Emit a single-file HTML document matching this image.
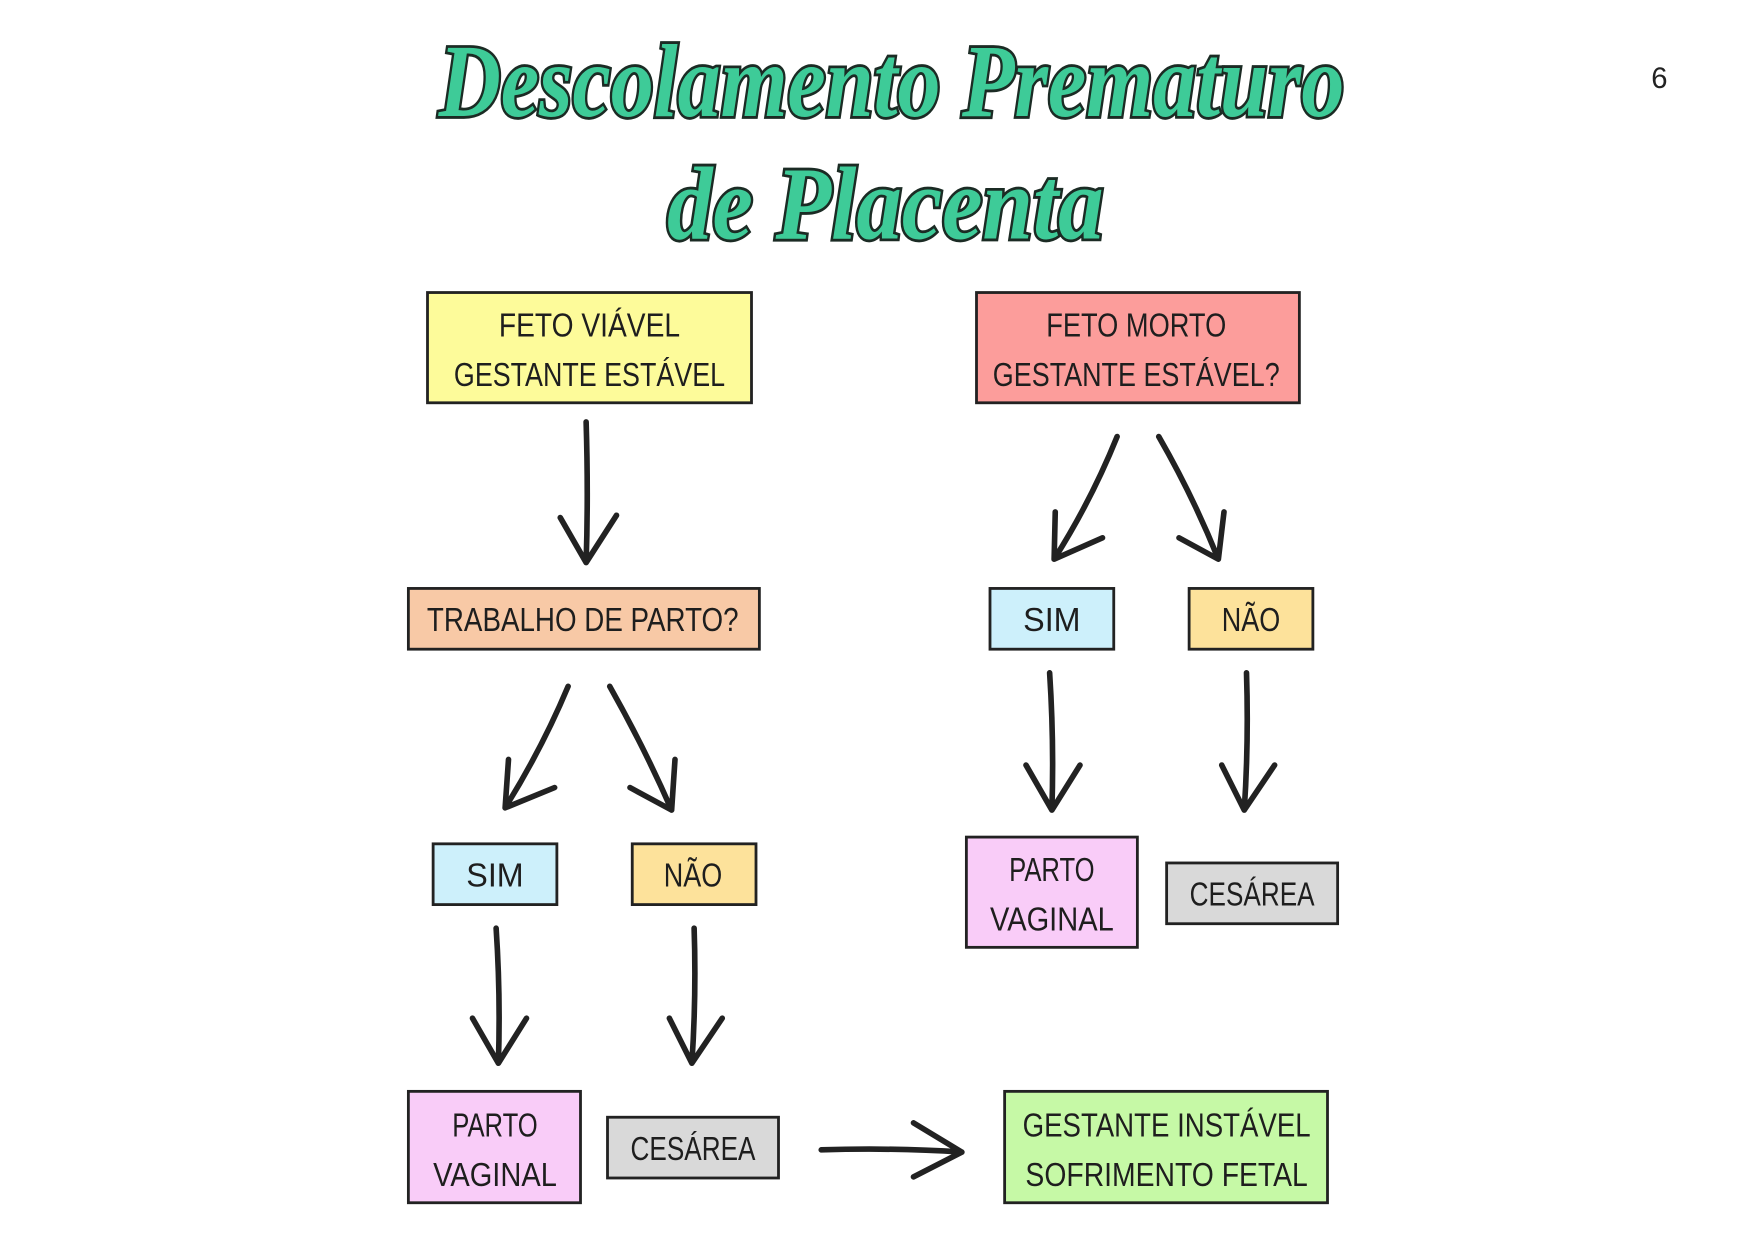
<!DOCTYPE html>
<html><head><meta charset="utf-8"><style>
html,body{margin:0;padding:0;background:#fff;}
svg{display:block;}
.b{stroke:#222;stroke-width:2.5;}
.t{font-family:"Liberation Sans",sans-serif;font-size:30px;fill:#1e1e1e;text-anchor:middle;}
.a{fill:none;stroke:#222;stroke-width:5;stroke-linecap:round;stroke-linejoin:round;}
</style></head><body>
<svg width="1755" height="1241" viewBox="0 0 1560 1103" preserveAspectRatio="none" xmlns="http://www.w3.org/2000/svg">
<rect width="1560" height="1103" fill="#fff"/>
<g font-family="Liberation Serif,serif" font-style="italic" font-weight="bold" fill="#3ecb98" stroke="#1b2b24" stroke-width="5" paint-order="stroke">
<text x="390" y="103" font-size="92" textLength="805" lengthAdjust="spacingAndGlyphs">Descolamento Prematuro</text>
<text x="593" y="212" font-size="92" textLength="388" lengthAdjust="spacingAndGlyphs">de Placenta</text>
</g>
<text x="1475" y="78" font-family="Liberation Sans,sans-serif" font-size="26" text-anchor="middle" fill="#222">6</text>

<rect class="b" x="380" y="260" width="288" height="98" fill="#fdfb9a"/>
<text class="t" x="524" y="299" textLength="161" lengthAdjust="spacingAndGlyphs">FETO VIÁVEL</text><text class="t" x="524" y="343" textLength="241" lengthAdjust="spacingAndGlyphs">GESTANTE ESTÁVEL</text>
<rect class="b" x="868" y="260" width="287" height="98" fill="#fc9d9b"/>
<text class="t" x="1010" y="299" textLength="160" lengthAdjust="spacingAndGlyphs">FETO MORTO</text><text class="t" x="1010" y="343" textLength="255" lengthAdjust="spacingAndGlyphs">GESTANTE ESTÁVEL?</text>
<rect class="b" x="363" y="523" width="312" height="54" fill="#f8c9a6"/>
<text class="t" x="518" y="561" textLength="277" lengthAdjust="spacingAndGlyphs">TRABALHO DE PARTO?</text>
<rect class="b" x="880" y="523" width="110" height="54" fill="#cdf0fb"/>
<text class="t" x="935" y="561" textLength="51" lengthAdjust="spacingAndGlyphs">SIM</text>
<rect class="b" x="1057" y="523" width="110" height="54" fill="#fde29b"/>
<text class="t" x="1112" y="561" textLength="52" lengthAdjust="spacingAndGlyphs">NÃO</text>
<rect class="b" x="385" y="750" width="110" height="54" fill="#cdf0fb"/>
<text class="t" x="440" y="788" textLength="51" lengthAdjust="spacingAndGlyphs">SIM</text>
<rect class="b" x="562" y="750" width="110" height="54" fill="#fde29b"/>
<text class="t" x="616" y="788" textLength="52" lengthAdjust="spacingAndGlyphs">NÃO</text>
<rect class="b" x="859" y="744" width="152" height="98" fill="#f9ccf8"/>
<text class="t" x="935" y="783" textLength="76" lengthAdjust="spacingAndGlyphs">PARTO</text><text class="t" x="935" y="827" textLength="110" lengthAdjust="spacingAndGlyphs">VAGINAL</text>
<rect class="b" x="1037" y="767" width="152" height="54" fill="#d9d9d9"/>
<text class="t" x="1113" y="805" textLength="111" lengthAdjust="spacingAndGlyphs">CESÁREA</text>
<rect class="b" x="363" y="970" width="153" height="99" fill="#f9ccf8"/>
<text class="t" x="440" y="1010" textLength="76" lengthAdjust="spacingAndGlyphs">PARTO</text><text class="t" x="440" y="1054" textLength="110" lengthAdjust="spacingAndGlyphs">VAGINAL</text>
<rect class="b" x="540" y="993" width="152" height="54" fill="#d9d9d9"/>
<text class="t" x="616" y="1031" textLength="111" lengthAdjust="spacingAndGlyphs">CESÁREA</text>
<rect class="b" x="893" y="970" width="287" height="99" fill="#c6f9a6"/>
<text class="t" x="1037" y="1010" textLength="256" lengthAdjust="spacingAndGlyphs">GESTANTE INSTÁVEL</text><text class="t" x="1037" y="1054" textLength="251" lengthAdjust="spacingAndGlyphs">SOFRIMENTO FETAL</text>

<path class="a" d="M521 375 Q523 440 521 500 M498 460 L521 500 L548 458"/>
<path class="a" d="M993 388 Q970 445 937 497 M938 455 L937 497 L980 478"/>
<path class="a" d="M1030 388 Q1060 440 1083 497 M1048 478 L1083 497 L1088 455"/>
<path class="a" d="M505 610 Q482 665 449 718 M452 675 L449 718 L493 700"/>
<path class="a" d="M542 610 Q573 665 597 720 M560 700 L597 720 L600 675"/>
<path class="a" d="M441 825 Q445 885 443 945 M420 905 L443 945 L468 905"/>
<path class="a" d="M617 825 Q619 885 615 945 M595 905 L615 945 L642 905"/>
<path class="a" d="M933 598 Q937 660 935 720 M912 680 L935 720 L960 680"/>
<path class="a" d="M1108 598 Q1110 660 1106 720 M1086 680 L1106 720 L1133 680"/>
<path class="a" d="M730 1022 Q795 1020 855 1024 M812 998 L855 1024 L812 1046"/>
</svg>
</body></html>
